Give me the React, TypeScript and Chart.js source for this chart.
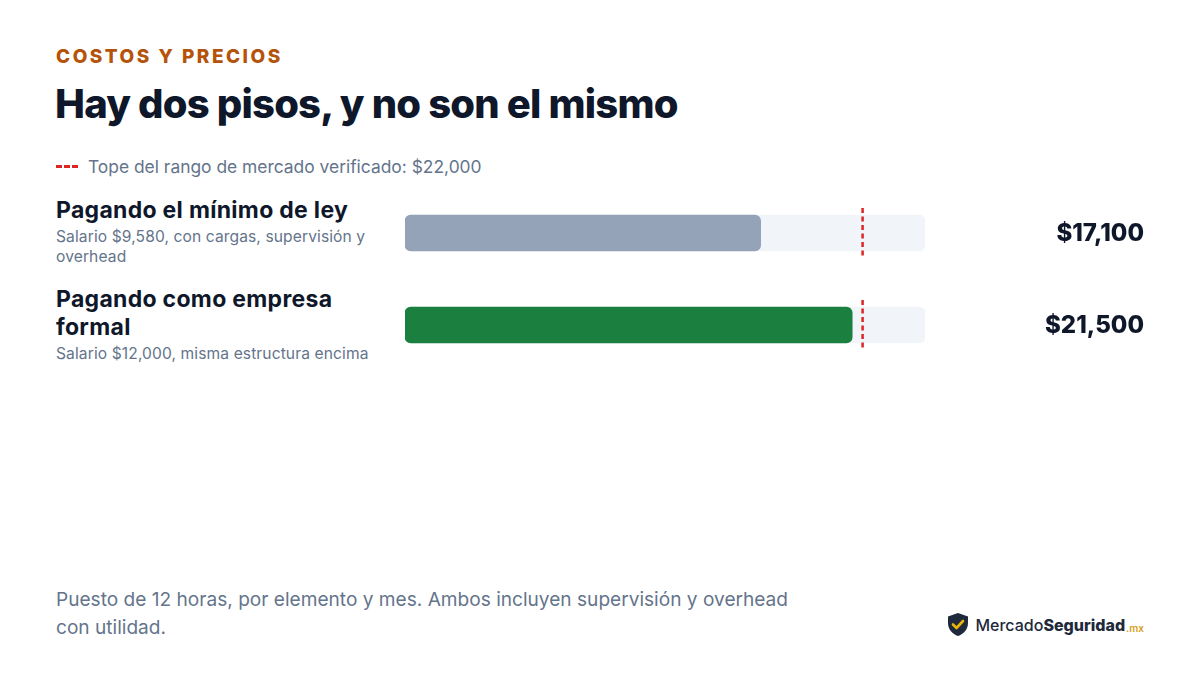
import React, { useEffect, useRef } from 'react';
import { Chart, registerables } from 'chart.js';

Chart.register(...registerables);

// data
const categories = ['Pagando el mínimo de ley', 'Pagando como empresa formal'];
const subtitles = ['Salario $9,580, con cargas, supervisión y overhead', 'Salario $12,000, misma estructura encima'];
const costs = [17100, 21500];
const scaleMax = 25000;
const trackValues = [scaleMax, scaleMax];
const marketTop = 22000;
const barColors = ['#94a3b8', '#1a7f3f'];

const FONT = 'Inter, "Noto Sans", sans-serif';
const fmt = (v: number) => '$' + v.toLocaleString('en-US');

// dashed reference line + value labels on the right
const overlayPlugin = {
  id: 'overlay',
  afterDatasetsDraw(chart: any) {
    const { ctx, scales } = chart;
    const meta = chart.getDatasetMeta(0);
    const x = scales.x.getPixelForValue(marketTop);
    ctx.save();
    meta.data.forEach((bar: any, i: number) => {
      const half = bar.height / 2;
      ctx.strokeStyle = '#dc2626';
      ctx.lineWidth = 2.5;
      ctx.setLineDash([5, 3.5]);
      ctx.beginPath();
      ctx.moveTo(x, bar.y - half - 7);
      ctx.lineTo(x, bar.y + half + 8);
      ctx.stroke();

      ctx.setLineDash([]);
      ctx.fillStyle = '#0f172a';
      ctx.font = `800 24px ${FONT}`;
      ctx.textAlign = 'right';
      ctx.textBaseline = 'middle';
      ctx.fillText(fmt(costs[i]), chart.width, bar.y + 1);
    });
    ctx.restore();
  },
};

const CostBars: React.FC = () => {
  const canvasRef = useRef<HTMLCanvasElement>(null);
  const chartRef = useRef<Chart | null>(null);

  useEffect(() => {
    if (!canvasRef.current) return;
    if (chartRef.current) chartRef.current.destroy();

    chartRef.current = new Chart(canvasRef.current, {
      type: 'bar',
      data: {
        labels: categories,
        datasets: [
          {
            label: 'Costo',
            data: costs,
            backgroundColor: barColors,
            borderRadius: 6,
            borderSkipped: false,
            barThickness: 36,
            grouped: false,
            order: 1,
          },
          {
            label: 'Escala',
            data: trackValues,
            backgroundColor: '#f1f5f9',
            borderRadius: 6,
            borderSkipped: false,
            barThickness: 36,
            grouped: false,
            order: 2,
          },
        ],
      },
      options: {
        indexAxis: 'y',
        responsive: false,
        animation: false,
        layout: { padding: { left: 0, right: 219, top: 0, bottom: 0 } },
        scales: {
          x: { min: 0, max: scaleMax, display: false },
          y: { display: false },
        },
        plugins: {
          legend: { display: false },
          tooltip: { enabled: false },
        },
      },
      plugins: [overlayPlugin],
    });

    return () => {
      if (chartRef.current) {
        chartRef.current.destroy();
        chartRef.current = null;
      }
    };
  }, []);

  return <canvas ref={canvasRef} width={739} height={184} style={{ position: 'absolute', left: 405, top: 187 }} />;
};

const labelTops = [196, 285];

const App: React.FC = () => {
  useEffect(() => {
    document.body.style.margin = '0';
  }, []);

  return (
    <div style={{ position: 'relative', width: 1200, height: 675, background: '#fff', fontFamily: FONT, overflow: 'hidden' }}>
      <div style={{ position: 'absolute', left: 56, top: 45, fontSize: 19, fontWeight: 800, letterSpacing: 2.5, color: '#b45309' }}>
        COSTOS Y PRECIOS
      </div>
      <div style={{ position: 'absolute', left: 55, top: 79, fontSize: 40, fontWeight: 800, letterSpacing: -0.8, color: '#0f172a' }}>
        Hay dos pisos, y no son el mismo
      </div>
      <div style={{ position: 'absolute', left: 56, top: 156, fontSize: 17.4, color: '#64748b', display: 'flex', alignItems: 'center' }}>
        <span style={{ display: 'inline-block', width: 22, borderTop: '3px dashed #dc2626', marginRight: 10 }} />
        Tope del rango de mercado verificado: {fmt(marketTop)}
      </div>

      {categories.map((c, i) => (
        <div key={c} style={{ position: 'absolute', left: 56, top: labelTops[i], width: 335 }}>
          <div style={{ fontSize: 23, fontWeight: 700, lineHeight: '28px', letterSpacing: 0.3, color: '#0f172a' }}>{c}</div>
          <div style={{ fontSize: 15.6, lineHeight: '20px', letterSpacing: 0.1, color: '#64748b', marginTop: 3 }}>{subtitles[i]}</div>
        </div>
      ))}

      <CostBars />

      <div style={{ position: 'absolute', left: 56, top: 585, width: 760, fontSize: 19.1, lineHeight: '28px', color: '#64748b' }}>
        Puesto de 12 horas, por elemento y mes. Ambos incluyen supervisión y overhead con utilidad.
      </div>

      <div style={{ position: 'absolute', right: 56, top: 612, display: 'flex', alignItems: 'center' }}>
        <svg width="22" height="25" viewBox="0 0 22 25" style={{ marginRight: 6 }}>
          <path d="M11 1 L21 4.5 V11 C21 17.5 16.5 22 11 24 C5.5 22 1 17.5 1 11 V4.5 Z" fill="#1e293b" />
          <path d="M6 12.5 L9.5 16 L16 9" stroke="#eab308" strokeWidth="2.6" fill="none" strokeLinecap="round" strokeLinejoin="round" />
        </svg>
        <span style={{ fontSize: 16, fontWeight: 500, color: '#1e293b' }}>Mercado</span>
        <span style={{ fontSize: 16, fontWeight: 800, color: '#1e293b' }}>Seguridad</span>
        <span style={{ fontSize: 10, fontWeight: 600, color: '#d4a017', marginLeft: 1, alignSelf: 'flex-end', marginBottom: 3 }}>.mx</span>
      </div>
    </div>
  );
};

export default App;
